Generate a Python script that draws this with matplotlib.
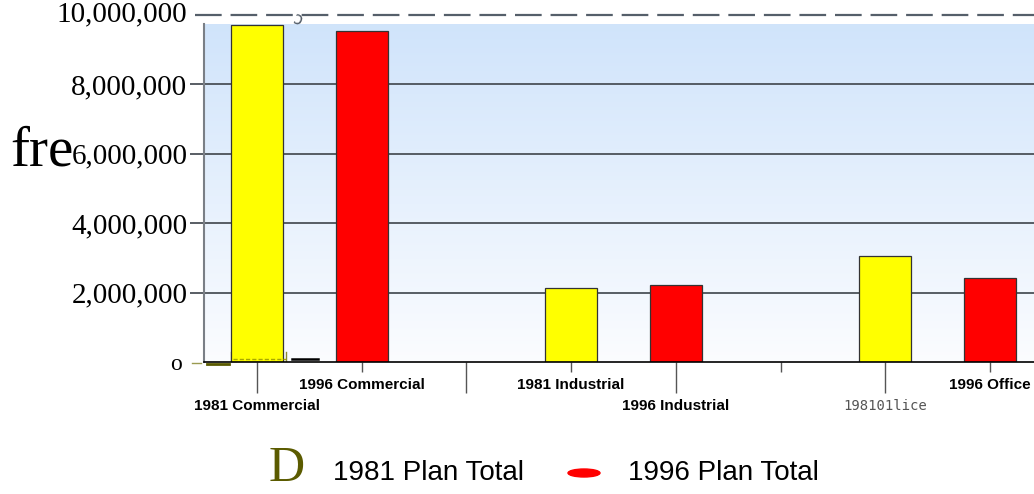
import numpy as np
import matplotlib
matplotlib.use('Agg')
import matplotlib.pyplot as plt
from matplotlib.patches import Ellipse

# plan totals by land use (square feet)
groups = ['Commercial', 'Industrial', 'Office']
plan_1981 = [9.70e6, 2.13e6, 3.05e6]
plan_1996 = [9.53e6, 2.22e6, 2.42e6]

# one slot per bar, with an empty slot between groups
slot_labels = ['1981 Commercial', '1996 Commercial', '',
               '1981 Industrial', '1996 Industrial', '',
               '198101lice', '1996 Office']
y_ticks = [0, 2e6, 4e6, 6e6, 8e6, 10e6]
y_labels = ['o', '2,000,000', '4,000,000', '6,000,000', '8,000,000', '10,000,000']
legend_names = ['1981 Plan Total', '1996 Plan Total']

fig = plt.figure(figsize=(10.34, 4.94), dpi=100)
ax = fig.add_axes([0.1973, 0.2672, 0.8027, 0.7034])

x81 = [3 * i for i in range(len(groups))]
x96 = [3 * i + 1 for i in range(len(groups))]
ax.set_xlim(-0.506, 7.42)
ax.set_ylim(0, 10e6)

# pale blue backdrop fading to white
top_fill = 9.72e6
grad = np.linspace(0, 1, 256).reshape(-1, 1)
c_top = np.array([0.816, 0.894, 0.984])
c_bot = np.array([0.985, 0.99, 1.0])
img = c_bot + (c_top - c_bot) * grad
ax.imshow(img[:, None, :].repeat(2, axis=1), origin='lower', aspect='auto',
          extent=[-0.506, 7.42, 0, top_fill], zorder=0)

for v in y_ticks[1:-1]:
    ax.axhline(v, color='#4b5158', lw=1.3, zorder=1)
ax.axhline(10e6, xmin=-0.011, xmax=1, color='#555f6a', lw=1.6,
           dashes=(12, 4), clip_on=False, zorder=1)
ax.text(0.39, 9.86e6, 'ɔ', fontsize=12, color='#555f6a',
        ha='center', va='center', rotation=-20)

ax.bar(x81, plan_1981, width=0.5, color='#ffff00', edgecolor='#333333', lw=0.9, zorder=3)
ax.bar(x96, plan_1996, width=0.5, color='#ff0000', edgecolor='#333333', lw=0.9, zorder=3)

# stray marks around the origin
ax.plot([-0.62, -0.53], [-0.03e6, -0.03e6], color='#9a9a50', lw=1, clip_on=False)
ax.plot([-0.48, -0.27], [-0.06e6, -0.06e6], color='#5a5a00', lw=2, clip_on=False)
ax.plot([-0.25, -0.25, -0.2], [0.3e6, 0.02e6, 0.02e6], color='#8a8a30', lw=1, clip_on=False)
ax.plot([-0.23, 0.28], [0.1e6, 0.1e6], color='#a8a800', lw=1, dashes=(3, 1.5), zorder=4)
ax.plot([0.28, 0.28], [0.04e6, 0.3e6], color='#8a8a30', lw=1, zorder=4)
ax.plot([0.33, 0.58], [0.1e6, 0.1e6], color='black', lw=1.8, zorder=4)

for s in ['top', 'right']:
    ax.spines[s].set_visible(False)
ax.spines['left'].set_bounds(0, top_fill)
ax.spines['left'].set_color('#7a7f86')
ax.spines['left'].set_linewidth(1.5)
ax.spines['bottom'].set_color('black')
ax.spines['bottom'].set_linewidth(1.2)
ax.spines['bottom'].set_zorder(5)

ax.set_yticks(y_ticks)
ax.set_yticklabels(y_labels, family='Liberation Serif', fontsize=21)
ax.tick_params(axis='y', length=10, width=1.3, color='#4b5158', pad=2)
yt = ax.yaxis.get_major_ticks()
yt[0].tick1line.set_visible(False)
yt[-1].tick1line.set_visible(False)
yt[0].label1.set_fontsize(17)
yt[0].label1.set_position((-0.006, 0))
yt[-1].label1.set_va('center')

# staggered category labels: long ticks on even slots, short on odd
ax.set_xticks(range(0, 8, 2))
ax.set_xticklabels(slot_labels[0::2])
ax.set_xticks(range(1, 8, 2), minor=True)
ax.set_xticklabels(slot_labels[1::2], minor=True)
ax.tick_params(axis='x', which='major', length=22.3, width=1, color='#555555', pad=4)
ax.tick_params(axis='x', which='minor', length=7.2, width=1, color='#555555', pad=4)
for lab in ax.get_xticklabels() + ax.get_xticklabels(minor=True):
    lab.set_family('Liberation Sans')
    lab.set_fontsize(11)
    lab.set_weight('bold')
odd = ax.get_xticklabels()[3]
odd.set_family('DejaVu Sans Mono')
odd.set_weight('normal')
odd.set_fontsize(10)
odd.set_color('#555555')

fig.text(10 / 1034, 1 - 152 / 494, 'fre', family='Liberation Serif', fontsize=41,
         va='center', ha='left')

# legend row
fig.text(287 / 1034, 1 - 469 / 494, 'D', family='Liberation Serif', fontsize=36,
         color='#5b5b00', ha='center', va='center')
fig.text(333 / 1034, 1 - 473 / 494, legend_names[0], family='Liberation Sans',
         fontsize=20, ha='left', va='center')
fig.patches.append(Ellipse((584 / 1034, 1 - 473 / 494), 32 / 1034, 8 / 494,
                           transform=fig.transFigure, color='#ff0000', figure=fig))
fig.text(628 / 1034, 1 - 473 / 494, legend_names[1], family='Liberation Sans',
         fontsize=20, ha='left', va='center')

fig.savefig('out.png', dpi=100)
